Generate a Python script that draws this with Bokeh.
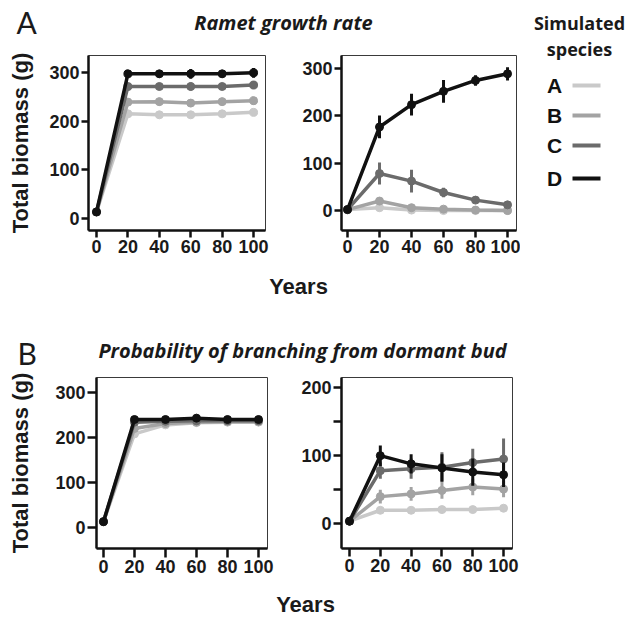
from bokeh.plotting import figure
from bokeh.models import Range1d, FixedTicker, ColumnDataSource
from bokeh.layouts import column, row
from bokeh.core.properties import value
from bokeh.embed import file_html
from bokeh.resources import INLINE

years = [0, 20, 40, 60, 80, 100]
species = ["A", "B", "C", "D"]
colors = ["#c9c9c9", "#a3a3a3", "#6b6b6b", "#111111"]

# Panel A (ramet growth rate), left
ramet_left_A = [14, 215, 213, 213, 215, 218]
ramet_left_B = [14, 239, 240, 237, 240, 242]
ramet_left_C = [14, 271, 271, 271, 271, 274]
ramet_left_D = [14, 297, 297, 297, 297, 299]
ramet_left_A_err = [0, 6, 6, 6, 6, 7]
ramet_left_B_err = [0, 8, 8, 8, 8, 8]
ramet_left_C_err = [0, 7, 7, 8, 7, 8]
ramet_left_D_err = [0, 8, 8, 10, 8, 10]

# Panel A (ramet growth rate), right
ramet_right_A = [2, 6, 1, 0, 0, 0]
ramet_right_B = [2, 20, 6, 3, 1, 0]
ramet_right_C = [2, 78, 62, 38, 22, 12]
ramet_right_D = [2, 176, 223, 251, 274, 288]
ramet_right_A_err = [0, 3, 2, 1, 1, 1]
ramet_right_B_err = [0, 7, 4, 2, 1, 1]
ramet_right_C_err = [0, 23, 24, 10, 6, 5]
ramet_right_D_err = [0, 24, 23, 24, 11, 14]

# Panel B (probability of branching from dormant bud), left
branch_left_A = [13, 208, 228, 233, 234, 234]
branch_left_B = [13, 220, 231, 234, 235, 235]
branch_left_C = [13, 234, 236, 237, 237, 237]
branch_left_D = [13, 240, 240, 243, 240, 240]
branch_left_A_err = [0, 8, 8, 8, 8, 8]
branch_left_B_err = [0, 8, 8, 8, 8, 8]
branch_left_C_err = [0, 8, 8, 8, 8, 8]
branch_left_D_err = [0, 7, 7, 8, 7, 8]

# Panel B (probability of branching from dormant bud), right
branch_right_A = [4, 20, 20, 21, 21, 23]
branch_right_B = [4, 40, 44, 49, 54, 51]
branch_right_C = [4, 78, 81, 83, 90, 95]
branch_right_D = [4, 100, 88, 82, 76, 72]
branch_right_A_err = [0, 4, 4, 4, 4, 5]
branch_right_B_err = [0, 10, 10, 12, 12, 12]
branch_right_C_err = [0, 12, 15, 22, 20, 30]
branch_right_D_err = [0, 15, 14, 20, 20, 18]

yticks_main = [0, 100, 200, 300]
yticks_b_right = [0, 50, 100, 150, 200]

TICK_FONT = "Liberation Sans"
TITLE_FONT = "Open Sans"


def make_panel(width, height, xr, yr, borders, yticks, series, ylabel=None,
               ylabel_standoff=10, tick_len=7, overrides=None):
    bl, br, bt, bb = borders
    p = figure(width=width, height=height, x_range=Range1d(*xr), y_range=Range1d(*yr),
               min_border_left=bl, min_border_right=br, min_border_top=bt,
               min_border_bottom=bb, toolbar_location=None, output_backend="svg")
    p.grid.visible = False
    p.outline_line_color = "#3a3a3a"
    p.outline_line_width = 1
    p.xaxis.ticker = FixedTicker(ticks=years)
    p.yaxis.ticker = FixedTicker(ticks=yticks)
    if overrides:
        p.yaxis.major_label_overrides = overrides
    for ax in p.axis:
        ax.axis_line_width = 2.5
        ax.axis_line_color = "#111111"
        ax.major_tick_line_width = 2.5
        ax.major_tick_line_color = "#111111"
        ax.major_tick_out = tick_len
        ax.major_tick_in = 0
        ax.minor_tick_line_color = None
        ax.major_label_text_font = TICK_FONT
        ax.major_label_text_font_style = "bold"
        ax.major_label_text_font_size = "18px"
        ax.major_label_text_color = "#1a1a1a"
        ax.major_label_standoff = 2
    if ylabel:
        p.yaxis.axis_label = ylabel
        p.yaxis.axis_label_text_font = TICK_FONT
        p.yaxis.axis_label_text_font_style = "bold"
        p.yaxis.axis_label_text_font_size = "22px"
        p.yaxis.axis_label_text_color = "#1a1a1a"
        p.yaxis.axis_label_standoff = ylabel_standoff
    for (vals, errs), c in zip(series, colors):
        src = ColumnDataSource(dict(
            x=years, y=vals,
            lo=[v - e for v, e in zip(vals, errs)],
            hi=[v + e for v, e in zip(vals, errs)]))
        p.line("x", "y", source=src, line_width=3.5, line_color=c)
        p.segment(x0="x", y0="lo", x1="x", y1="hi", source=src, line_width=3, line_color=c)
        p.scatter("x", "y", source=src, size=8, color=c)
    return p


def text_strip(width, height, items):
    p = figure(width=width, height=height, x_range=Range1d(0, width), y_range=Range1d(height, 0),
               x_axis_type=None, y_axis_type=None, min_border=0,
               toolbar_location=None, output_backend="svg")
    p.grid.visible = False
    p.outline_line_color = None
    for (x, y, txt, font, style, size, align) in items:
        p.text(x=[x], y=[y], text=[txt], text_font=value(font), text_font_style=style,
               text_font_size=size, text_align=align, text_baseline="middle",
               text_color="#1a1a1a")
    return p


# Row A
head_a = text_strip(520, 40, [
    (16, 21, "A", "Lato", "normal", "30px", "left"),
    (283, 22, "Ramet growth rate", TITLE_FONT, "bold italic", "20px", "center"),
])
a1 = make_panel(295, 225, (-5.1, 107.6), (-24, 334.5), (88, 30, 15, 33), yticks_main,
                [(ramet_left_A, ramet_left_A_err), (ramet_left_B, ramet_left_B_err),
                 (ramet_left_C, ramet_left_C_err), (ramet_left_D, ramet_left_D_err)],
                ylabel="Total biomass (g)", ylabel_standoff=13, tick_len=7)
a2 = make_panel(225, 225, (-3.75, 105.6), (-42, 326.5), (46, 4, 14, 35), yticks_main,
                [(ramet_right_A, ramet_right_A_err), (ramet_right_B, ramet_right_B_err),
                 (ramet_right_C, ramet_right_C_err), (ramet_right_D, ramet_right_D_err)],
                tick_len=7)
years_a = text_strip(520, 45, [(298, 21, "Years", TICK_FONT, "bold", "22px", "center")])

# Legend
leg = figure(width=112, height=310, x_range=Range1d(520, 632), y_range=Range1d(310, 0),
             x_axis_type=None, y_axis_type=None, min_border=0,
             toolbar_location=None, output_backend="svg")
leg.grid.visible = False
leg.outline_line_color = None
leg.text(x=[579, 579], y=[22, 48], text=["Simulated", "species"], text_font=value(TITLE_FONT),
         text_font_style="bold", text_font_size="18px", text_align="center",
         text_baseline="middle", text_color="#1a1a1a")
leg_y = [85, 115, 145, 178]
leg.text(x=[554] * 4, y=leg_y, text=species, text_font=value(TICK_FONT),
         text_font_style="bold", text_font_size="21px", text_align="center",
         text_baseline="middle", text_color="#111111")
leg.segment(x0=[572] * 4, y0=leg_y, x1=[600] * 4, y1=leg_y, line_color=colors, line_width=4)

# Row B
head_b = text_strip(632, 62, [
    (17, 42, "B", "Lato", "normal", "30px", "left"),
    (302, 40, "Probability of branching from dormant bud", TITLE_FONT, "bold italic", "20px", "center"),
])
b1 = make_panel(298, 210, (-4.5, 105.8), (-46.7, 333.3), (96, 31, 5, 34), yticks_main,
                [(branch_left_A, branch_left_A_err), (branch_left_B, branch_left_B_err),
                 (branch_left_C, branch_left_C_err), (branch_left_D, branch_left_D_err)],
                ylabel="Total biomass (g)", ylabel_standoff=19, tick_len=9)
b2 = make_panel(334, 210, (-5.2, 105.8), (-36, 214.5), (42, 120, 3, 34), yticks_b_right,
                [(branch_right_A, branch_right_A_err), (branch_right_B, branch_right_B_err),
                 (branch_right_C, branch_right_C_err), (branch_right_D, branch_right_D_err)],
                tick_len=8, overrides={50: "", 150: ""})
years_b = text_strip(632, 36, [(305, 22, "Years", TICK_FONT, "bold", "22px", "center")])

layout = column(
    row(column(head_a, row(a1, a2), years_a), leg),
    column(head_b, row(b1, b2), years_b),
)

open("out.html", "w").write(file_html(layout, INLINE))
